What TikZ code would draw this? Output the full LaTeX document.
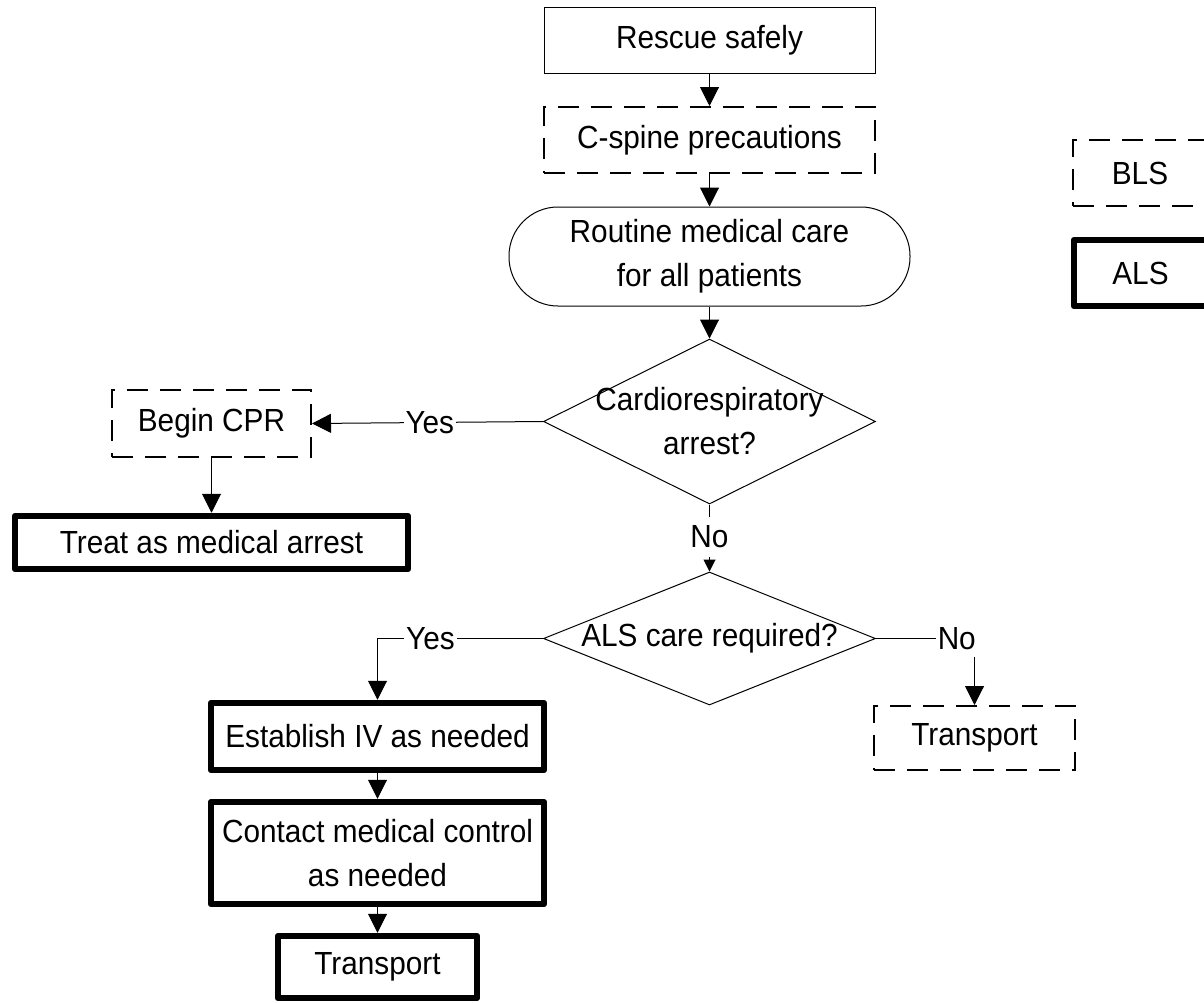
\documentclass[tikz,border=0pt]{standalone}
\usepackage{fontspec}
\setmainfont[FakeStretch=0.93]{Liberation Sans}
\usetikzlibrary{shapes.geometric,arrows.meta}
\tikzset{
  txt/.style={font=\fontsize{32}{44}\selectfont, align=center, inner sep=0pt},
  thinbox/.style={txt, draw, rectangle, line width=1pt},
  roundbox/.style={txt, draw, rectangle, line width=1pt, rounded corners=49pt},
  blsbox/.style={txt, draw, rectangle, line width=2pt, dash pattern=on 21pt off 12pt},
  alsbox/.style={txt, draw, rectangle, line width=6.5pt, line join=round},
  decision/.style={draw, diamond, line width=1pt, inner sep=0pt},
  conn/.style={line width=1pt, -{Triangle[length=19pt,width=19pt]}},
  sconn/.style={line width=1pt, -{Triangle[length=12pt,width=12pt]}},
  lbl/.style={fill=white, font=\fontsize{32}{44}\selectfont, inner xsep=2pt, inner ysep=4pt},
}
\begin{document}
\begin{tikzpicture}[x=1pt,y=-1pt]
\useasboundingbox (0,0) rectangle (1204,1002);
\clip (0,0) rectangle (1204,1002);
\fill[white] (0,0) rectangle (1204,1002);

% main column
\node[thinbox, minimum width=331pt, minimum height=66pt] (rescue) at (709.5,40) {Rescue safely};
\node[blsbox, minimum width=331pt, minimum height=66pt] (cspine) at (709.5,140) {C-spine precautions};
\node[roundbox, minimum width=401pt, minimum height=99pt] (routine) at (709.5,256.5) {Routine medical care\\for all patients};
\node[decision, minimum width=332pt, minimum height=165pt] (d1) at (709.5,421.5) {};
\node[txt] (d1t) at (d1.center) {Cardiorespiratory\\arrest?};
\node[decision, minimum width=332pt, minimum height=133pt] (d2) at (709.5,638.5) {};
\node[txt] (d2t) at (d2.center) {ALS care required?};

% left branch
\node[blsbox, minimum width=199pt, minimum height=67pt] (cpr) at (211.5,423.5) {Begin CPR};
\node[alsbox, minimum width=393pt, minimum height=53pt] (treat) at (211.5,542.5) {Treat as medical arrest};

% ALS branch
\node[alsbox, minimum width=333pt, minimum height=67pt] (estab) at (377.5,736.5) {Establish IV as needed};
\node[alsbox, minimum width=333pt, minimum height=102pt] (contact) at (377.5,853) {Contact medical control\\as needed};
\node[alsbox, minimum width=199pt, minimum height=62pt] (trans1) at (377.5,967) {Transport};

% BLS transport
\node[blsbox, minimum width=201pt, minimum height=64pt] (trans2) at (974.5,738) {Transport};

% legend
\node[blsbox, minimum width=134pt, minimum height=66pt] (legbls) at (1140,173) {BLS};
\node[alsbox, minimum width=133pt, minimum height=66pt] (legals) at (1140.5,273) {ALS};

% connectors
\draw[conn] (rescue) -- (cspine);
\draw[conn] (cspine) -- (routine);
\draw[conn] (routine) -- (d1.north);
\draw[conn] (d1.west) -- node[lbl, pos=0.49] {Yes} (cpr.east);
\draw[conn] (cpr) -- (treat);
\draw[sconn] (d1.south) -- node[lbl, pos=0.485, inner ysep=9pt] {No} (d2.north);
\draw[conn] (d2.west) -| node[lbl, pos=0.34] {Yes} (estab.north);
\draw[conn] (d2.east) -| node[lbl, pos=0.41, inner ysep=7pt] {No} (trans2.north);
\draw[conn] (estab) -- (contact);
\draw[conn] (contact) -- (trans1);
\end{tikzpicture}
\end{document}
